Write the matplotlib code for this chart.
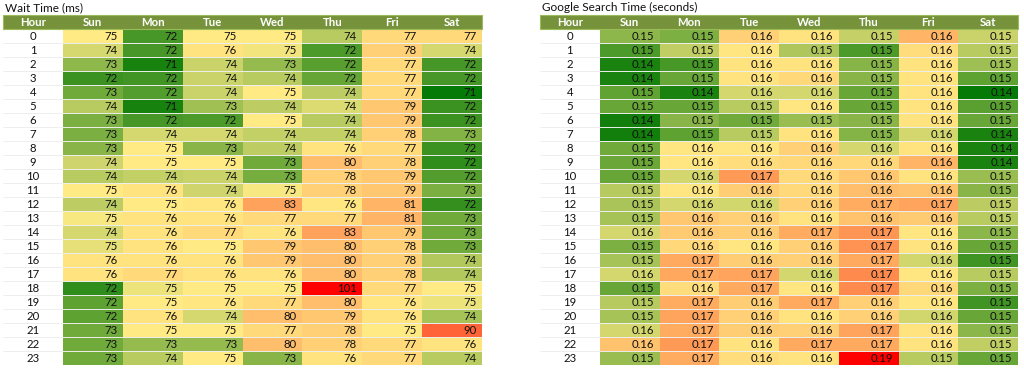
import numpy as np
import matplotlib
matplotlib.use("Agg")
import matplotlib.pyplot as plt
from matplotlib.colors import LinearSegmentedColormap, TwoSlopeNorm
from matplotlib.patches import Rectangle

plt.rcParams['font.family'] = ['Lato', 'DejaVu Sans']

days = ['Sun', 'Mon', 'Tue', 'Wed', 'Thu', 'Fri', 'Sat']
hours = list(range(24))

# Wait time (ms), rows = hour 0..23, cols = Sun..Sat (estimated underlying values)
wait_ms = np.array([
    [75.0, 71.9, 75.0, 75.0, 73.8, 77.0, 77.0],
    [74.3, 71.9, 76.0, 74.8, 72.0, 78.0, 74.3],
    [73.1, 71.1, 74.1, 73.2, 72.2, 77.0, 71.9],
    [71.7, 71.8, 74.1, 73.8, 72.4, 77.0, 71.9],
    [72.6, 72.1, 74.1, 75.0, 73.9, 77.0, 70.8],
    [73.8, 71.1, 73.4, 73.9, 74.4, 79.0, 71.7],
    [72.8, 71.9, 72.0, 75.0, 73.8, 79.0, 71.7],
    [72.8, 74.3, 74.3, 74.0, 74.0, 78.0, 72.9],
    [73.0, 75.0, 73.0, 73.9, 76.0, 77.0, 71.7],
    [74.2, 75.0, 75.0, 72.6, 80.0, 78.0, 71.5],
    [73.8, 74.0, 74.1, 72.7, 78.0, 79.0, 72.1],
    [75.0, 76.0, 74.2, 74.9, 78.0, 79.0, 72.8],
    [73.9, 75.0, 75.6, 83.0, 75.6, 81.0, 71.6],
    [74.9, 76.0, 76.0, 77.0, 77.0, 81.0, 72.6],
    [74.3, 76.0, 77.0, 75.8, 83.0, 79.0, 72.6],
    [74.6, 76.0, 75.0, 79.0, 80.0, 78.0, 72.6],
    [76.0, 76.0, 76.0, 79.0, 80.0, 78.0, 73.7],
    [76.0, 77.0, 76.0, 76.0, 80.0, 78.0, 73.7],
    [71.5, 74.7, 75.0, 75.0, 101.0, 77.0, 75.0],
    [72.3, 75.0, 75.6, 77.0, 80.0, 75.6, 74.7],
    [72.3, 76.0, 74.3, 80.0, 79.0, 76.0, 73.5],
    [72.6, 75.0, 75.0, 77.0, 78.0, 75.0, 90.0],
    [72.6, 73.2, 73.2, 80.0, 78.0, 77.0, 76.0],
    [72.6, 73.8, 75.0, 73.0, 76.0, 77.0, 73.8],
])

# Google search time (seconds), estimated underlying values
search_s = np.array([
    [0.1509, 0.1499, 0.1610, 0.1590, 0.1544, 0.1642, 0.1546],
    [0.1469, 0.1541, 0.1585, 0.1530, 0.1469, 0.1595, 0.1536],
    [0.1437, 0.1466, 0.1590, 0.1590, 0.1505, 0.1590, 0.1520],
    [0.1437, 0.1486, 0.1590, 0.1602, 0.1506, 0.1590, 0.1480],
    [0.1481, 0.1437, 0.1552, 0.1552, 0.1486, 0.1590, 0.1424],
    [0.1486, 0.1486, 0.1536, 0.1585, 0.1486, 0.1590, 0.1477],
    [0.1432, 0.1506, 0.1490, 0.1517, 0.1506, 0.1590, 0.1486],
    [0.1432, 0.1479, 0.1535, 0.1590, 0.1504, 0.1552, 0.1437],
    [0.1491, 0.1585, 0.1585, 0.1610, 0.1553, 0.1590, 0.1437],
    [0.1487, 0.1585, 0.1596, 0.1602, 0.1602, 0.1643, 0.1437],
    [0.1484, 0.1552, 0.1673, 0.1600, 0.1622, 0.1590, 0.1517],
    [0.1534, 0.1585, 0.1613, 0.1600, 0.1632, 0.1625, 0.1506],
    [0.1527, 0.1552, 0.1551, 0.1610, 0.1652, 0.1662, 0.1538],
    [0.1525, 0.1622, 0.1610, 0.1590, 0.1626, 0.1617, 0.1536],
    [0.1553, 0.1617, 0.1613, 0.1652, 0.1678, 0.1585, 0.1508],
    [0.1499, 0.1602, 0.1585, 0.1610, 0.1680, 0.1590, 0.1486],
    [0.1525, 0.1655, 0.1613, 0.1611, 0.1655, 0.1551, 0.1460],
    [0.1553, 0.1658, 0.1662, 0.1552, 0.1691, 0.1585, 0.1536],
    [0.1486, 0.1595, 0.1655, 0.1585, 0.1691, 0.1602, 0.1499],
    [0.1534, 0.1652, 0.1613, 0.1655, 0.1611, 0.1585, 0.1460],
    [0.1525, 0.1662, 0.1610, 0.1590, 0.1610, 0.1551, 0.1486],
    [0.1553, 0.1652, 0.1613, 0.1610, 0.1662, 0.1590, 0.1508],
    [0.1626, 0.1673, 0.1590, 0.1655, 0.1655, 0.1590, 0.1541],
    [0.1517, 0.1652, 0.1595, 0.1590, 0.1875, 0.1536, 0.1486],
])

cmap = LinearSegmentedColormap.from_list('gyr', ['#067A06', '#FFEB84', '#FF0000'])
HEADER = '#76933C'
FS = 8.2

fig = plt.figure(figsize=(10.24, 3.68), dpi=100)
W, H = 1024.0, 368.0


def draw_table(px_left, px_width, title, data, norm, fmt):
    ax = fig.add_axes([px_left / W, 3 / H, px_width / W, 350 / H])
    nrow, ndays = data.shape
    ncol = ndays + 1
    ax.pcolormesh(np.arange(1, ncol + 1), np.arange(0, nrow + 1), data,
                  cmap=cmap, norm=norm, shading='flat')
    ax.set_xlim(0, ncol)
    ax.set_ylim(nrow, -1)
    ax.axis('off')
    # row separators
    ax.hlines(np.arange(1, nrow + 1), 0, ncol, colors='#EEEEEE', lw=0.7)
    # header
    ax.add_patch(Rectangle((0, -1), ncol, 1, facecolor=HEADER,
                           edgecolor='#9BBB59', lw=0.8, clip_on=False))
    for j, lab in enumerate(['Hour'] + days):
        ax.text(j + 0.5, -0.48, lab, ha='center', va='center', color='white',
                fontsize=FS, fontweight='bold')
    for i, h in enumerate(hours):
        ax.text(0.5, i + 0.52, str(h), ha='center', va='center',
                color='#111111', fontsize=FS)
        for j in range(ndays):
            ax.text(j + 1.91, i + 0.52, fmt(data[i, j]), ha='right', va='center',
                    color='#111111', fontsize=FS)
    ax.text(0.03, -1.55, title, ha='left', va='center', color='#111111',
            fontsize=FS + 0.3, clip_on=False)


draw_table(3, 479, 'Wait Time (ms)', wait_ms,
           TwoSlopeNorm(vmin=70.8, vcenter=75.0, vmax=101.0),
           lambda v: f'{v:.0f}')
draw_table(540, 478, 'Google Search Time (seconds)', search_s,
           TwoSlopeNorm(vmin=0.1424, vcenter=0.158, vmax=0.185),
           lambda v: f'{v:.2f}')

fig.savefig('out.png', dpi=100, facecolor='white')
